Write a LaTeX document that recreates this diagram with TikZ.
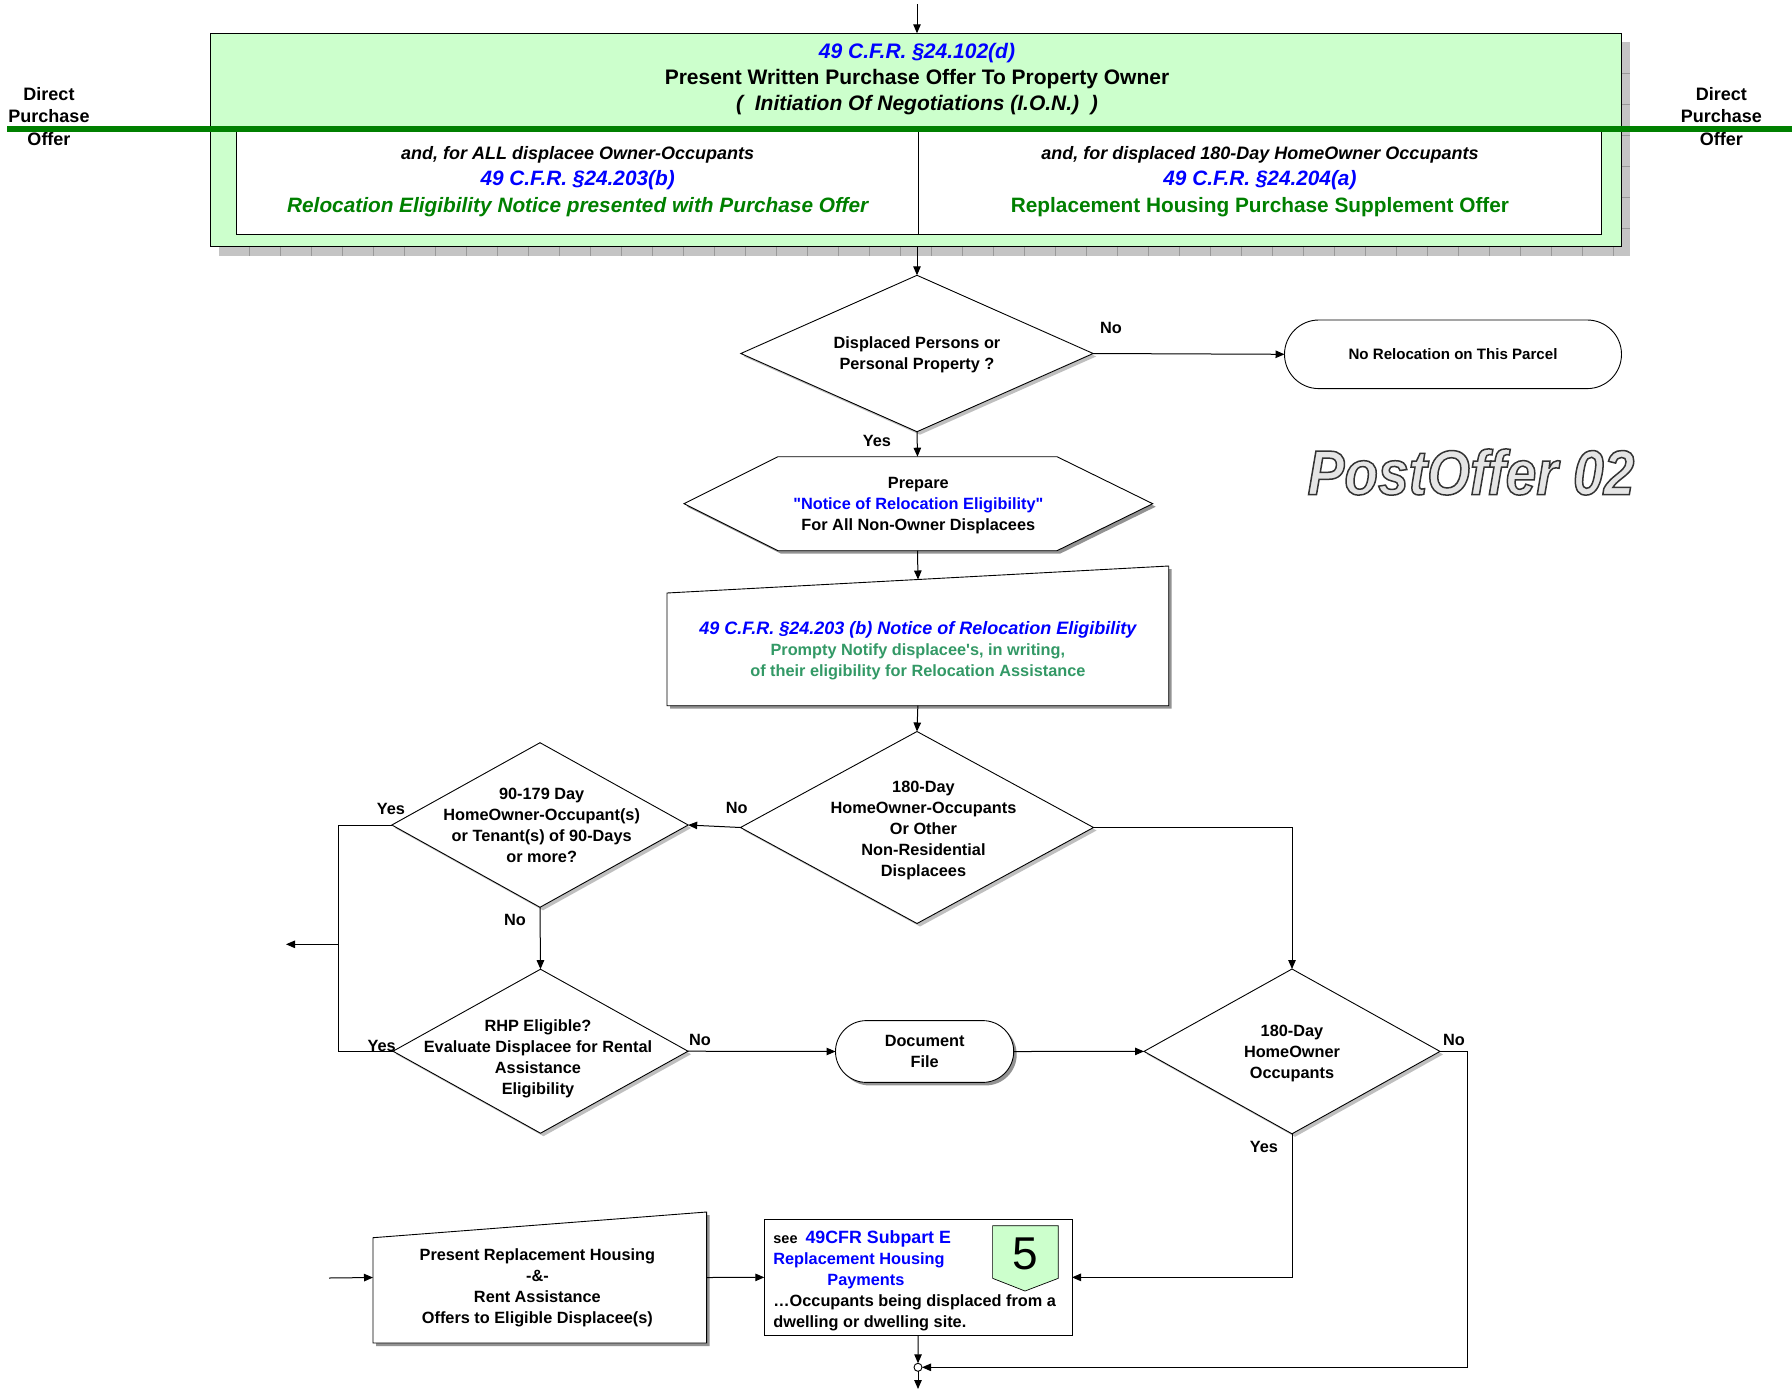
\documentclass[tikz,border=0pt]{standalone}
\usepackage{fontspec}
\setmainfont[Ligatures=TeXOff]{Liberation Sans}
\newfontfamily\stampfont[FakeStretch=0.875]{Liberation Sans}
\usetikzlibrary{shapes.geometric, shapes.misc, arrows.meta, shadows}
\definecolor{offerGreen}{RGB}{204, 255, 204}
\definecolor{lineGreen}{RGB}{0, 128, 0}
\definecolor{noticeGreen}{RGB}{51, 153, 102}
\definecolor{citeBlue}{RGB}{0, 0, 255}
\definecolor{shadowGray}{RGB}{196, 196, 196}
\tikzset{
    boxshadow/.style={drop shadow={shadow xshift=3pt, shadow yshift=-3pt, fill=gray!85, opacity=1}},
    softshadow/.style={drop shadow={shadow xshift=3pt, shadow yshift=-3pt, fill=gray!50, opacity=1}},
    bodytext/.style={font=\fontsize{16.3}{21}\selectfont\bfseries, align=center, inner sep=0pt},
    decision/.style={diamond, draw, fill=white, line width=0.9pt, inner sep=0pt, outer sep=0pt, softshadow},
    terminal/.style={rounded rectangle, draw, fill=white, line width=0.9pt, outer sep=0pt, bodytext},
    outline/.style={minimum width=#1, outer sep=0pt, inner sep=0pt},
    sidetext/.style={font=\fontsize{18}{22.5}\selectfont\bfseries, align=center, inner sep=0pt},
    answer/.style={font=\fontsize{16.3}{18}\selectfont\bfseries, inner sep=0pt},
    link/.style={-{Triangle[length=9pt,width=7.5pt]}, line width=1pt},
    plainlink/.style={line width=1pt}
}
\begin{document}
\begin{tikzpicture}[x=1pt, y=-1pt]
    \useasboundingbox (0,0) rectangle (1792,1390);

    % Offer box
    \fill[shadowGray] (219,42) rectangle (1630,255.7);
    \foreach \x in {249,280,...,1630} \draw[gray!80, line width=0.4pt] (\x,247) -- (\x,255.7);
    \foreach \y in {73,104,...,250} \draw[gray!80, line width=0.4pt] (1621,\y) -- (1630,\y);
    \node[draw, fill=offerGreen, line width=1pt, outer sep=0pt, minimum width=1410.5pt, minimum height=213.4pt] at (915.75,140) (offer) {};
    \node[font=\fontsize{21}{26}\selectfont\bfseries, align=center, inner sep=0pt] at (917,79.5) (offertitle) {
        \textcolor{citeBlue}{\itshape 49 C.F.R. §24.102(d)}\\
        Present Written Purchase Offer To Property Owner\\
        \itshape (\ \ Initiation Of Negotiations (I.O.N.)\ \ )
    };
    \node[draw, fill=white, line width=1pt, outer sep=0pt, minimum width=682.3pt, minimum height=105pt, align=center, inner sep=0pt, font=\fontsize{20.8}{25.5}\selectfont\bfseries] at (577.65,181.8) (allowners) {
        {\fontsize{18}{25.5}\selectfont\itshape and, for ALL displacee Owner-Occupants}\\
        {\itshape\textcolor{citeBlue}{49 C.F.R. §24.203(b)}}\\[1.5pt]
        {\itshape\textcolor{lineGreen}{Relocation Eligibility Notice presented with Purchase Offer}}
    };
    \node[draw, fill=white, line width=1pt, outer sep=0pt, minimum width=682.3pt, minimum height=105pt, align=center, inner sep=0pt, font=\fontsize{20.8}{25.5}\selectfont\bfseries] at (1259.95,181.8) (dayowners) {
        {\fontsize{18}{25.5}\selectfont\itshape and, for displaced 180-Day HomeOwner Occupants}\\
        {\itshape\textcolor{citeBlue}{49 C.F.R. §24.204(a)}}\\[1.5pt]
        \textcolor{lineGreen}{Replacement Housing Purchase Supplement Offer}
    };

    % Direct purchase line
    \node[sidetext] at (49,116.5) (directleft) {Direct\\Purchase\\Offer};
    \node[sidetext] at (1721.4,116.5) (directright) {Direct\\Purchase\\Offer};
    \coordinate (linestart) at (7,129.3);
    \coordinate (lineend) at (1792,129.3);
    \draw[lineGreen, line width=6pt] (linestart) -- (lineend);

    % Flow shapes
    \node[decision, minimum width=352.3pt, minimum height=156.4pt] at (917,353.5) (persons) {};
    \node[bodytext] at (917,354.8) (personstext) {Displaced Persons or\\Personal Property ?};
    \node[terminal, minimum width=337pt, minimum height=68.6pt, font=\fontsize{15.1}{18}\selectfont\bfseries] at (1453,354.3) (norelocation) {No Relocation on This Parcel};

    % Prepare shape
    \draw[fill=white, line width=0.9pt, boxshadow] (684,503.7) -- (778,456.7) -- (1057,456.7) -- (1152.7,503.7) -- (1057,550.7) -- (778,550.7) -- cycle;
    \node[outline=373pt, minimum height=94pt] at (917.5,503.7) (prepare) {};
    \node[bodytext] at (918.3,505.5) (preparetext) {
        Prepare\\
        \textcolor{citeBlue}{"Notice of Relocation Eligibility"}\\
        For All Non-Owner Displacees
    };

    % Notice box
    \draw[fill=white, line width=0.9pt, boxshadow] (667,593) -- (1168.7,566) -- (1168.7,705.7) -- (667,705.7) -- cycle;
    \coordinate (noticetop) at (918,579.5);
    \node[outline=501.7pt, minimum height=109.4pt, align=center, font=\fontsize{16.3}{21}\selectfont\bfseries] at (917.85,651) (notice) {
        {\fontsize{18}{21}\selectfont\itshape\textcolor{citeBlue}{49 C.F.R. §24.203 (b) Notice of Relocation Eligibility}}\\
        \textcolor{noticeGreen}{Prompty Notify displacee's, in writing,}\\
        \textcolor{noticeGreen}{of their eligibility for Relocation Assistance}
    };

    \node[decision, minimum width=353pt, minimum height=192pt] at (917,827.5) (dayother) {};
    \node[bodytext] at (923.5,830) (dayothertext) {180-Day\\HomeOwner-Occupants\\Or Other\\Non-Residential\\Displacees};
    \node[decision, minimum width=296.3pt, minimum height=164.6pt] at (540,825) (tenants) {};
    \node[bodytext] at (541.7,825.2) (tenantstext) {90-179 Day\\HomeOwner-Occupant(s)\\or Tenant(s) of 90-Days\\or more?};
    \node[decision, minimum width=295pt, minimum height=164pt] at (540.5,1051.2) (rhp) {};
    \node[bodytext] at (538,1058.8) (rhptext) {RHP Eligible?\\Evaluate Displacee for Rental\\Assistance\\Eligibility};
    \node[terminal, minimum width=178.2pt, minimum height=61.8pt, boxshadow] at (924.6,1051.5) (docfile) {Document\\File};
    \node[decision, minimum width=296pt, minimum height=164.8pt] at (1292,1051.4) (occupants) {};
    \node[bodytext] at (1292,1053.4) (occupantstext) {180-Day\\HomeOwner\\Occupants};

    % Offers box
    \draw[fill=white, line width=0.9pt, boxshadow] (373,1237.7) -- (706.6,1212) -- (706.6,1343) -- (373,1343) -- cycle;
    \node[outline=333.6pt, minimum height=131pt] at (539.8,1277.5) (offers) {};
    \node[bodytext] at (537.4,1287.6) (offerstext) {Present Replacement Housing\\-\&-\\Rent Assistance\\Offers to Eligible Displacee(s)};

    % Subpart box
    \node[draw, fill=white, line width=0.9pt, outer sep=0pt, minimum width=307.7pt, minimum height=116.7pt] at (918.15,1277.35) (subpart) {};
    \node[bodytext, align=left, anchor=west] at (773.2,1280.8) (subparttext) {
        {\fontsize{14.5}{21}\selectfont see}\hspace{8pt}{\fontsize{17.8}{21}\selectfont\textcolor{citeBlue}{49CFR Subpart E}}\\
        \textcolor{citeBlue}{Replacement Housing}\\
        \hspace*{54pt}\textcolor{citeBlue}{Payments}\\
        …Occupants being displaced from a\\
        dwelling or dwelling site.
    };
    \draw[fill=offerGreen, line width=0.7pt] (992.6,1225.7) -- (1058.3,1225.7) -- (1058.3,1278.3) -- (1025,1291) -- (992.6,1278.3) -- cycle;
    \node[font=\fontsize{46}{46}\selectfont, inner sep=0pt] at (1025,1254) (badge) {5};

    % Stamp
    \node[font=\stampfont\fontsize{63}{63}\selectfont\bfseries\itshape, inner sep=0pt] at (1471,472) (stamp) {\special{pdf:code 2 Tr 1.5 w 0.2 G 0.9 g}PostOffer 02\special{pdf:code 0 Tr 1 w 0 g 0 G}};

    % Merge point
    \node[circle, draw, fill=white, line width=0.9pt, inner sep=0pt, outer sep=0pt, minimum size=8pt] at (918,1367.3) (merge) {};

    % Free ends
    \coordinate (entry) at (917,4);
    \coordinate (exit) at (918,1389);
    \coordinate (rhpout) at (286,944.3);
    \coordinate (offersin) at (329,1278);
    \coordinate (yesbend) at (338.3,944.3);
    \coordinate (nobend) at (1467.5,1051.4);

    % Connectors
    \draw[link] (entry) -- (entry |- offer.north);
    \draw[link] (entry |- offer.south) -- (persons.north);
    \draw[link] (persons.east) -- (norelocation.west);
    \draw[link] (persons.south) -- (prepare.north);
    \draw[link] (prepare.south) -- (noticetop);
    \draw[link] (notice.south) -- (dayother.north);
    \draw[link] (dayother.west) -- (tenants.east);
    \draw[link] (dayother.east) -| (occupants.north);
    \draw[link] (tenants.south) -- (rhp.north);
    \draw[plainlink] (tenants.west) -- (yesbend |- tenants.west) -- (yesbend |- rhp.west) -- (rhp.west);
    \draw[link] (yesbend) -- (rhpout);
    \draw[link] (rhp.east) -- (docfile.west);
    \draw[link] (docfile.east) -- (occupants.west);
    \draw[link] (occupants.south) |- (subpart.east);
    \draw[link] (occupants.east) -- (nobend) |- (merge.east);
    \draw[link] (offersin) -- (offers.west);
    \draw[link] (offers.east) -- (subpart.west);
    \draw[link] (subpart.south) -- (merge.north);
    \draw[link] (merge.south) -- (exit);

    % Answers
    \node[answer] at (1111,327.5) (nopersons) {No};
    \node[answer] at (877,440.5) (yespersons) {Yes};
    \node[answer] at (736.7,807.8) (noday) {No};
    \node[answer] at (391,808.5) (yestenants) {Yes};
    \node[answer] at (515,919.7) (notenants) {No};
    \node[answer] at (381.7,1045.5) (yesrhp) {Yes};
    \node[answer] at (700,1039.8) (norhp) {No};
    \node[answer] at (1454,1039.5) (nooccupants) {No};
    \node[answer] at (1264,1147) (yesoccupants) {Yes};
\end{tikzpicture}
\end{document}
